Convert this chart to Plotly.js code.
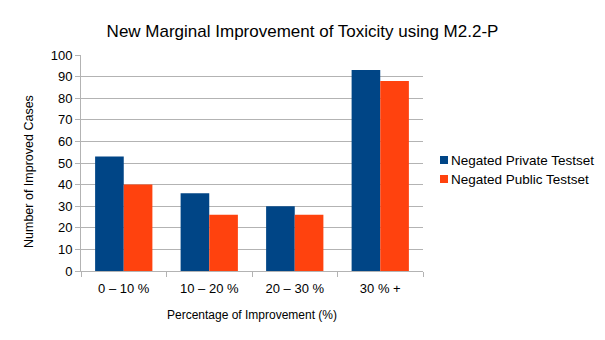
<!DOCTYPE html>
<html><head><meta charset="utf-8">
<script src="https://cdn.plot.ly/plotly-3.0.1.min.js"></script>
<style>html,body{margin:0;padding:0;background:#fff}#c{width:605px;height:340px}</style>
</head><body><div id="c"></div>
<script>
const categories = ["0 – 10 %", "10 – 20 %", "20 – 30 %", "30 % +"];
const privateVals = [53, 36, 30, 93];
const publicVals = [40, 26, 26, 88];
const seriesNames = ["Negated Private Testset", "Negated Public Testset"];
const seriesColors = ["#004586", "#ff420e"];
const yTicks = [0,10,20,30,40,50,60,70,80,90,100];

const font = "Liberation Sans, Arial, sans-serif";
const W = 605, H = 340, M = {l:81, r:182, t:55, b:69};
const pw = W - M.l - M.r, ph = H - M.t - M.b;
const px = x => (x - M.l) / pw;           // pixel -> paper x
const py = y => (H - M.b - y) / ph;       // pixel -> paper y

const traces = [
  {type:"bar", x:categories, y:privateVals, name:seriesNames[0], marker:{color:seriesColors[0]}},
  {type:"bar", x:categories, y:publicVals, name:seriesNames[1], marker:{color:seriesColors[1]}}
];

// custom legend (swatch + label) to match the reference's compact legend
const legendRows = [160, 179];
const shapes = [], annotations = [];
seriesNames.forEach((n, i) => {
  const cy = legendRows[i];
  shapes.push({type:"rect", xref:"paper", yref:"paper", x0:px(440), x1:px(448), y0:py(cy+4), y1:py(cy-4),
    fillcolor:seriesColors[i], line:{width:0}});
  annotations.push({xref:"paper", yref:"paper", x:px(450), y:py(cy), xanchor:"left", yanchor:"middle",
    text:n, showarrow:false, font:{size:13.5, family:font, color:"#000"}, borderpad:0});
});
// y-axis title, placed as in the reference (slightly below the plot centre)
annotations.push({xref:"paper", yref:"paper", x:px(29), y:py(172), xanchor:"center", yanchor:"middle",
  text:"Number of Improved Cases", textangle:-90, showarrow:false, font:{size:12.5, family:font, color:"#000"}, borderpad:0});

const layout = {
  width:W, height:H,
  margin:{l:M.l, r:M.r, t:M.t, b:M.b, autoexpand:false},
  paper_bgcolor:"#fff", plot_bgcolor:"#fff",
  font:{family:font, color:"#000", size:13},
  title:{text:"New Marginal Improvement of Toxicity using M2.2-P", font:{size:17, family:font}, x:0.5, xanchor:"center", y:0.91, yanchor:"middle"},
  barmode:"group", bargap:0.33, bargroupgap:0,
  xaxis:{title:{text:"Percentage of Improvement (%)", font:{size:12}, standoff:16},
    showline:true, linecolor:"#b3b3b3", linewidth:1, ticks:"outside", tickson:"boundaries",
    tickcolor:"#b3b3b3", ticklen:5, showgrid:false, tickfont:{size:13}, ticklabelstandoff:5},
  yaxis:{range:[0,100], tickvals:yTicks, showline:true, linecolor:"#b3b3b3", linewidth:1,
    ticks:"outside", tickcolor:"#b3b3b3", ticklen:5, gridcolor:"#b3b3b3", gridwidth:1,
    zeroline:false, tickfont:{size:13}},
  showlegend:false,
  shapes:shapes, annotations:annotations
};
Plotly.newPlot("c", traces, layout, {staticPlot:true});
</script></body></html>
